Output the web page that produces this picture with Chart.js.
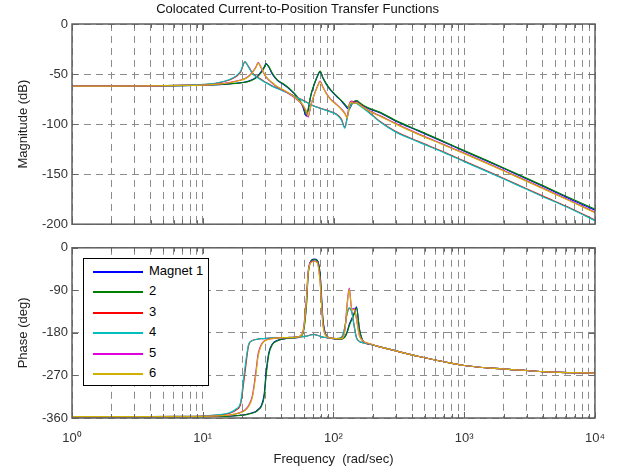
<!DOCTYPE html>
<html>
<head>
<meta charset="utf-8">
<script src="https://cdn.jsdelivr.net/npm/chart.js@4.4.0/dist/chart.umd.min.js"></script>
<style>
  body { margin: 0; background: #fff; }
  #wrap { position: relative; width: 618px; height: 476px; font-family: "Liberation Sans", Arial, sans-serif; }
  #magCanvas { position: absolute; left: 0; top: 0; }
  #phCanvas { position: absolute; left: 0; top: 236px; }
  #legend { position: absolute; left: 83px; top: 258px; width: 126px; height: 128px; box-sizing: border-box;
            border: 1px solid #000; background: #fff; }
  .row { position: absolute; left: 0; height: 16px; }
  .row span.ln { position: absolute; left: 9px; top: 7px; width: 50px; height: 2px; }
  .row span.tx { position: absolute; left: 65px; top: -1px; font-size: 13px; color: #000; white-space: nowrap; }
</style>
</head>
<body>
<div id="wrap">
  <canvas id="magCanvas" width="618" height="236"></canvas>
  <canvas id="phCanvas" width="618" height="240"></canvas>
  <div id="legend"></div>
</div>
<script>
// frequency points (rad/sec), shared by every magnet
const freq = [1, 2, 4, 7, 10, 13, 16, 18, 19.5, 21, 22.5, 24, 25.5, 26.5, 28, 29.5, 30.5, 32, 34, 37,
  41, 46, 52, 58, 62, 64, 67, 71, 75, 79, 83, 88, 95, 105, 115, 122, 127, 132, 138, 144,
  150, 158, 170, 190, 230, 300, 450, 700, 1000, 1500, 2500, 4000, 6500, 10000];

// magnitude (dB)
const mag1 = [-62, -62, -61.8, -61.5, -61, -60.5, -59.8, -59.2, -58.6, -58, -57, -55.5, -53.5, -51.5, -47.5, -43, -39.5, -43, -50, -56,
  -60, -65, -72, -82, -92, -86, -72, -61, -53, -47.5, -54, -60, -66, -72, -77, -81, -84, -85, -80, -77.5,
  -77, -79, -82, -85, -89, -97, -107, -118, -127, -137, -150, -162, -175, -186];
const mag2 = [-62, -62, -61.8, -61.5, -61, -60.5, -59.9, -59.3, -58.8, -58.2, -57.3, -56, -54, -52, -48.5, -44, -40, -42.5, -49, -55.5,
  -59.5, -64.5, -71.5, -81, -90, -85, -71, -60.5, -52.5, -47, -53.5, -59.5, -65.5, -71.5, -76.5, -80, -82.5, -84, -80, -77.5,
  -76.5, -78.5, -81.5, -84.5, -88.5, -96.5, -106.5, -117.5, -126.5, -136.5, -149.5, -161.5, -174, -185];
const mag3 = [-62, -62, -61.7, -61.2, -60.5, -59, -56, -52.5, -48, -38, -43, -49, -52, -53.5, -55.5, -57.5, -58.5, -60, -62, -64,
  -66.5, -69.5, -73, -76, -78, -79, -80.5, -82, -83, -84, -85, -86, -87.5, -90, -95, -103, -94, -84, -79, -78,
  -79, -81, -84, -89, -98, -107.5, -117.5, -128, -137, -147, -160, -172, -184, -196];
const mag4 = [-62, -62, -61.7, -61.1, -60.3, -58.7, -55.5, -51.8, -47, -37.5, -43.5, -49.5, -52.5, -54, -56, -57.8, -58.8, -60.3, -62.3, -64.3,
  -66.8, -69.8, -73.3, -76.3, -78.2, -79.2, -80.7, -82.2, -83.2, -84.2, -85.2, -86.3, -87.8, -90.5, -96, -104, -95, -85, -79.5, -78.5,
  -79.5, -81.5, -84.5, -89.5, -98.5, -108, -118, -128.5, -137.5, -147.5, -160.5, -172.5, -184.5, -196.5];
const mag5 = [-62, -62, -61.8, -61.4, -61, -60, -58.5, -57, -56, -54.5, -52, -48, -43, -38.5, -44, -50, -53, -56, -59, -63,
  -66, -70, -75, -81, -88, -93, -82, -71, -63, -57, -63, -69, -75, -80, -85, -89, -93, -80, -77, -79,
  -78, -80, -83, -87, -92, -99.5, -110, -120.5, -129, -139, -152, -164, -176.5, -188];
const mag6 = [-62, -62, -61.8, -61.4, -61, -60.1, -58.7, -57.2, -56.2, -54.8, -52.4, -48.5, -43.5, -39, -43.5, -49.5, -52.5, -55.5, -58.5, -62.5,
  -65.5, -69.5, -74.5, -80.5, -87, -92, -81.5, -71, -63.5, -57.5, -63.5, -69.5, -75.5, -80.5, -85.5, -89.5, -94, -81, -78, -79.5,
  -78.5, -80.5, -83.5, -87.5, -92.5, -100, -110.5, -121, -129.5, -139.5, -152.5, -164.5, -177, -188.5];

// phase (deg)
const ph1 = [-357, -357, -357, -357, -357, -356.5, -356, -355, -354, -353, -351, -349, -346, -342, -334, -310, -265, -222, -204, -196,
  -193, -191, -190, -182, -120, -55, -28, -24, -26, -55, -150, -185, -191, -193, -193, -188, -178, -162, -150, -138,
  -125, -172, -199, -204, -210, -218, -230, -241, -249, -254, -258, -262, -264, -265];
const ph2 = [-357, -357, -357, -357, -357, -356.5, -356, -355.2, -354.3, -353.3, -351.5, -349.5, -347, -343, -336, -315, -272, -226, -205, -197,
  -193, -191, -190, -183, -125, -58, -29, -25, -27, -58, -155, -186, -191, -193, -193, -189, -180, -165, -152, -140,
  -127, -173, -199, -204, -210, -218, -230, -241, -249, -254, -258, -262, -264, -265];
const ph3 = [-357, -357, -357, -356.5, -356, -354, -350, -343, -330, -265, -205, -196, -194, -193, -192, -192, -191.5, -191, -190.5, -190,
  -190, -189.5, -189, -188, -187, -186, -184, -183, -185, -187, -189, -190, -191, -192, -190, -170, -140, -128, -135, -165,
  -190, -198, -201, -204, -210, -218, -230, -241, -249, -254, -258, -262, -264, -265];
const ph4 = [-357, -357, -357, -356.5, -355.8, -353.5, -349, -341, -326, -255, -203, -196, -194, -193, -192, -192, -191.5, -191, -190.5, -190,
  -190, -189.5, -189, -188, -187, -186, -184.5, -183.5, -185, -187, -189, -190, -191, -192, -189, -168, -138, -127, -136, -167,
  -191, -198, -201, -204, -210, -218, -230, -241, -249, -254, -258, -262, -264, -265];
const ph5 = [-357, -357, -357, -357, -356.5, -355.5, -354, -351, -348, -343, -333, -312, -262, -225, -205, -197, -195, -193, -192, -191,
  -190, -190, -189, -180, -110, -50, -30, -28, -30, -70, -160, -187, -191, -192, -192, -175, -120, -85, -130, -128,
  -150, -185, -198, -203, -210, -218, -230, -241, -249, -254, -258, -262, -264, -265];
const ph6 = [-357, -357, -357, -357, -356.5, -355.5, -354, -351.3, -348.5, -344, -335, -316, -268, -230, -207, -198, -195.5, -193.5, -192, -191,
  -190, -190, -189, -181, -115, -53, -32, -29, -31, -73, -162, -187, -191, -192, -192, -177, -125, -88, -132, -130,
  -152, -186, -198, -203, -210, -218, -230, -241, -249, -254, -258, -262, -264, -265];

const names = ['Magnet 1', '2', '3', '4', '5', '6'];
const colors = ['#0000ff', '#008000', '#ff0000', '#00bfbf', '#e000e0', '#d0b000'];
const magData = [mag1, mag2, mag3, mag4, mag5, mag6];
const phData = [ph1, ph2, ph3, ph4, ph5, ph6];

const decadeLabels = {1: '10\u2070', 10: '10\u00b9', 100: '10\u00b2', 1000: '10\u00b3', 10000: '10\u2074'};
const magTicks = [0, -50, -100, -150, -200];
const phTicks = [0, -90, -180, -270, -360];

const FONT = '"Liberation Sans", Arial, sans-serif';

// 1..9 per decade
var xTickVals = [];
for (let d = 1; d < 10000; d *= 10) {
  for (let k = 1; k < 10; k++) xTickVals.push(k * d);
}
xTickVals.push(10000);

function makeSets(values) {
  return values.map(function (arr, i) {
    return {
      label: names[i],
      data: freq.map((f, j) => ({x: f, y: arr[j]})),
      borderColor: colors[i],
      borderWidth: 1.2,
      pointRadius: 0,
      fill: false,
      cubicInterpolationMode: 'monotone',
      order: values.length - i
    };
  });
}

// axis box with inside tick marks, like matlab
const boxPlugin = {
  id: 'box',
  afterDraw(chart) {
    const ctx = chart.ctx;
    const a = chart.chartArea;
    const sx = chart.scales.x, sy = chart.scales.y;
    ctx.save();
    ctx.strokeStyle = '#666';
    ctx.lineWidth = 1;
    ctx.beginPath();
    sx.ticks.forEach(function (t) {
      const px = Math.round(sx.getPixelForValue(t.value)) + 0.5;
      const len = decadeLabels[t.value] ? 6 : 4;
      ctx.moveTo(px, a.top); ctx.lineTo(px, a.top + len);
      ctx.moveTo(px, a.bottom); ctx.lineTo(px, a.bottom - len);
    });
    sy.ticks.forEach(function (t) {
      const py = Math.round(sy.getPixelForValue(t.value)) + 0.5;
      ctx.moveTo(a.left, py); ctx.lineTo(a.left + 6, py);
      ctx.moveTo(a.right, py); ctx.lineTo(a.right - 6, py);
    });
    ctx.stroke();
    ctx.lineWidth = 1.5;
    ctx.strokeStyle = '#606060';
    ctx.strokeRect(a.left, a.top, a.right - a.left, a.bottom - a.top);
    ctx.restore();
  }
};

function xScale(showLabels, height) {
  return {
    type: 'logarithmic',
    min: 1,
    max: 10000,
    afterBuildTicks: function (s) { s.ticks = xTickVals.map(v => ({value: v})); },
    afterFit: function (s) { s.height = height; },
    grid: { color: '#8c8c8c', lineWidth: 1, drawTicks: false },
    border: { display: false, dash: [7, 5] },
    ticks: {
      display: showLabels,
      autoSkip: false,
      maxRotation: 0,
      padding: 13,
      color: '#333',
      font: { family: FONT, size: 13 },
      callback: function (v) { return decadeLabels[v] || ''; }
    },
    title: showLabels ? {
      display: true, text: 'Frequency  (rad/sec)', color: '#222',
      font: { family: FONT, size: 13 }, padding: { top: 0, bottom: 9.2 }
    } : { display: false }
  };
}

function yScale(min, ticksArr, label) {
  return {
    type: 'linear',
    min: min,
    max: 0,
    afterBuildTicks: function (s) { s.ticks = ticksArr.map(v => ({value: v})); },
    afterFit: function (s) { s.width = 72; },
    grid: { color: '#8c8c8c', lineWidth: 1, drawTicks: false },
    border: { display: false, dash: [7, 5] },
    ticks: { padding: 4, color: '#333', font: { family: FONT, size: 13 } },
    title: { display: true, text: label, color: '#222', font: { family: FONT, size: 13 }, padding: { top: 15.2, bottom: 0 } }
  };
}

var magChart = new Chart(document.getElementById('magCanvas').getContext('2d'), {
  type: 'line',
  data: { datasets: makeSets(magData) },
  options: {
    responsive: false,
    animation: false,
    layout: { padding: { left: 0, right: 23, top: 0, bottom: 0 } },
    plugins: {
      legend: { display: false },
      tooltip: { enabled: false },
      title: {
        display: true,
        text: 'Colocated Current-to-Position Transfer Functions',
        color: '#111',
        font: { family: FONT, size: 13, weight: 'normal' },
        padding: { top: 2, bottom: 6.4 }
      }
    },
    scales: { x: xScale(false, 10), y: yScale(-200, magTicks, 'Magnitude (dB)') }
  },
  plugins: [boxPlugin]
});

var phChart = new Chart(document.getElementById('phCanvas').getContext('2d'), {
  type: 'line',
  data: { datasets: makeSets(phData) },
  options: {
    responsive: false,
    animation: false,
    layout: { padding: { left: 0, right: 23, top: 6, bottom: 0 } },
    plugins: { legend: { display: false }, tooltip: { enabled: false } },
    scales: { x: xScale(true, 58), y: yScale(-360, phTicks, 'Phase (deg)') }
  },
  plugins: [boxPlugin]
});

// legend box inside the phase axes
const legendBox = document.getElementById('legend');
names.forEach(function (n, i) {
  const row = document.createElement('div');
  row.className = 'row';
  row.style.top = (5 + i * 20.4) + 'px';
  row.innerHTML = '<span class="ln" style="background:' + colors[i] + '"></span><span class="tx">' + n + '</span>';
  legendBox.appendChild(row);
});
</script>
</body>
</html>
